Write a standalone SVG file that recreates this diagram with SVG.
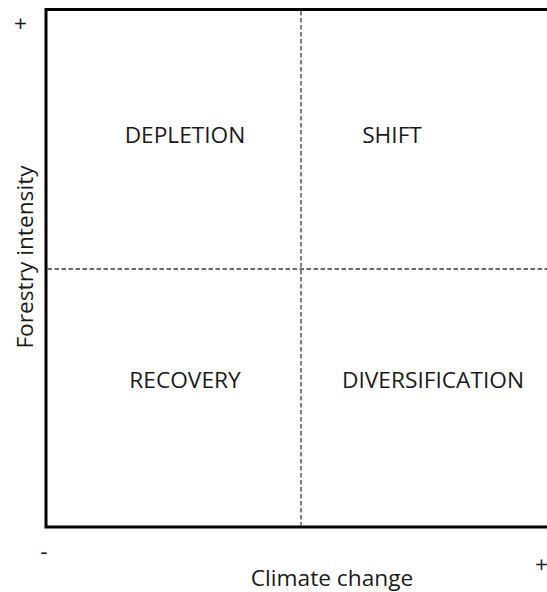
<svg xmlns="http://www.w3.org/2000/svg" width="547" height="592" viewBox="0 0 547 592">
  <style>
    .lbl { font-family: "Open Sans", "Noto Sans", "Liberation Sans", sans-serif; font-size: 22.7px; fill: #1a1a1a; text-anchor: middle; }
    .frame { fill: none; stroke: #000; stroke-width: 3; }
    .divider { fill: none; stroke: #3a3a3a; stroke-width: 1.3; stroke-dasharray: 4.5 2.5; }
  </style>
  <rect width="547" height="592" fill="#fff"/>

  <!-- axes frame -->
  <g id="axes">
    <path class="frame" d="M547,9.5 H46 V527 H547"/>
  </g>

  <!-- quadrant dividers -->
  <g id="connectors">
    <line class="divider" x1="301" y1="11" x2="301" y2="525.5"/>
    <line class="divider" x1="47.5" y1="269" x2="547" y2="269"/>
  </g>

  <!-- quadrants -->
  <g id="depletion"><text class="lbl" x="185" y="143">DEPLETION</text></g>
  <g id="shift"><text class="lbl" x="392" y="143">SHIFT</text></g>
  <g id="recovery"><text class="lbl" x="185" y="388">RECOVERY</text></g>
  <g id="diversification"><text class="lbl" x="433" y="388">DIVERSIFICATION</text></g>

  <!-- axis labels and ends -->
  <g id="y-axis-label">
    <text class="lbl" transform="translate(33,257) rotate(-90)">Forestry intensity</text>
    <text class="lbl" x="20.5" y="31">+</text>
  </g>
  <g id="x-axis-label">
    <text class="lbl" x="332" y="585.5">Climate change</text>
    <text class="lbl" x="44" y="559">-</text>
    <text class="lbl" x="541.5" y="572">+</text>
  </g>
</svg>
